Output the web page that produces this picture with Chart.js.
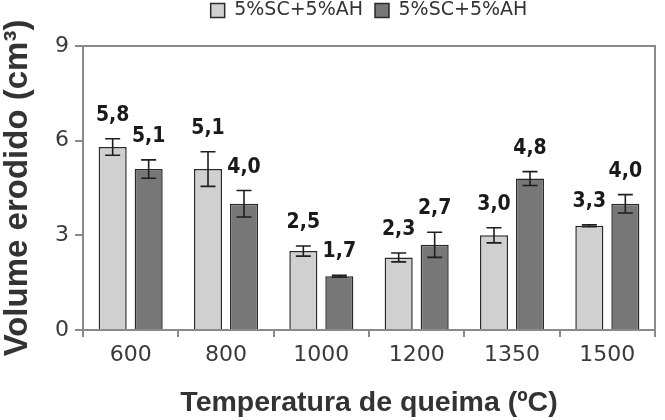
<!DOCTYPE html>
<html>
<head>
<meta charset="utf-8">
<script src="https://cdn.jsdelivr.net/npm/chart.js@4.4.0/dist/chart.umd.min.js"></script>
<style>
html,body{margin:0;padding:0;background:#ffffff;}
#wrap{width:665px;height:420px;position:relative;}
</style>
</head>
<body>
<div id="wrap"><canvas id="c"></canvas></div>
<script>
// ---- data ----
const categories = ['600', '800', '1000', '1200', '1350', '1500'];
const seriesNames = ['5%SC+5%AH', '5%SC+5%AH'];
const lightValues = [5.8, 5.1, 2.5, 2.3, 3.0, 3.3];
const darkValues = [5.1, 4.0, 1.7, 2.7, 4.8, 4.0];
const lightErrors = [0.26, 0.55, 0.16, 0.14, 0.24, 0.03];
const darkErrors = [0.29, 0.42, 0.03, 0.40, 0.22, 0.29];
const yTickValues = [0, 3, 6, 9];
const yTitle = 'Volume erodido (cm³)';
const xTitle = 'Temperatura de queima (ºC)';

// ---- styles ----
const AXIS = '#8a8a8a';
const TEXT = '#3a3a3a';
const errorsByDataset = [lightErrors, darkErrors];

const errorBarPlugin = {
  id: 'errorBars',
  afterDatasetsDraw(chart) {
    const ctx = chart.ctx;
    const yScale = chart.scales.y;
    ctx.save();
    chart.data.datasets.forEach((ds, di) => {
      const meta = chart.getDatasetMeta(di);
      const errs = errorsByDataset[di];
      meta.data.forEach((el, i) => {
        const v = ds.data[i];
        const e = errs[i];
        const x = el.x;
        const yTop = yScale.getPixelForValue(v + e);
        const yBot = yScale.getPixelForValue(v - e);
        const cap = 7.5;
        ctx.strokeStyle = '#1e1e1e';
        ctx.lineWidth = 1.6;
        ctx.beginPath();
        ctx.moveTo(x, yTop); ctx.lineTo(x, yBot);
        ctx.moveTo(x - cap, yTop); ctx.lineTo(x + cap, yTop);
        ctx.moveTo(x - cap, yBot); ctx.lineTo(x + cap, yBot);
        ctx.stroke();
        // value label
        ctx.fillStyle = '#1a1a1a';
        ctx.font = "bold 21px 'DejaVu Sans Condensed', 'Liberation Sans', Arial, sans-serif";
        ctx.textAlign = 'center';
        ctx.textBaseline = 'alphabetic';
        ctx.fillText(v.toFixed(1).replace('.', ','), x, yTop - 18);
      });
    });
    ctx.restore();
  }
};

new Chart(document.getElementById('c'), {
  type: 'bar',
  data: {
    labels: categories,
    datasets: [
      {
        label: seriesNames[0],
        data: lightValues,
        backgroundColor: '#d0d0d0',
        borderColor: '#2a2a2a',
        borderWidth: 1.5,
        categoryPercentage: 0.755,
        barPercentage: 0.78
      },
      {
        label: seriesNames[1],
        data: darkValues,
        backgroundColor: '#777777',
        borderColor: '#2a2a2a',
        borderWidth: 1.5,
        categoryPercentage: 0.755,
        barPercentage: 0.78
      }
    ]
  },
  options: {
    responsive: true,
    maintainAspectRatio: false,
    animation: false,
    devicePixelRatio: 1,
    layout: { padding: { top: -11, left: 0, right: 0, bottom: 0 } },
    plugins: {
      tooltip: { enabled: false },
      legend: {
        display: true,
        position: 'top',
        fullSize: false,
        align: 'center',
        labels: {
          boxWidth: 14,
          boxHeight: 14,
          padding: 12,
          color: '#333333',
          font: { family: "'DejaVu Sans', sans-serif", size: 19 }
        }
      }
    },
    scales: {
      x: {
        type: 'category',
        position: 'bottom',
        offset: true,
        grid: {
          display: true,
          offset: true,
          drawOnChartArea: false,
          drawTicks: true,
          tickLength: 7,
          color: AXIS,
          lineWidth: 2
        },
        border: { display: true, color: AXIS, width: 2 },
        ticks: {
          color: TEXT,
          padding: 5,
          font: { family: "'DejaVu Sans', sans-serif", size: 22 }
        },
        title: {
          display: true,
          text: xTitle,
          color: '#333333',
          padding: { top: 6, bottom: 0 },
          font: { family: "'Liberation Sans', Arial, sans-serif", size: 28.5, weight: 'bold' }
        },
        afterFit(scale) { scale.height = 90; }
      },
      x2: {
        type: 'category',
        position: 'top',
        labels: categories,
        offset: true,
        grid: { display: false },
        ticks: { display: false },
        border: { display: true, color: AXIS, width: 2 },
        afterFit(scale) { scale.height = 16; }
      },
      y: {
        type: 'linear',
        position: 'left',
        min: 0,
        max: 9,
        afterBuildTicks(scale) { scale.ticks = yTickValues.map(v => ({ value: v })); },
        grid: {
          display: true,
          drawOnChartArea: false,
          drawTicks: true,
          tickLength: 8,
          color: AXIS,
          lineWidth: 2
        },
        border: { display: true, color: AXIS, width: 2 },
        ticks: {
          color: TEXT,
          padding: 6,
          font: { family: "'DejaVu Sans', sans-serif", size: 22 }
        },
        title: {
          display: true,
          text: yTitle,
          color: '#333333',
          padding: { top: 0, bottom: 0 },
          font: { family: "'Liberation Sans', Arial, sans-serif", size: 33, weight: 'bold', lineHeight: 1.1 }
        },
        afterFit(scale) { scale.width = 83; }
      },
      y2: {
        type: 'linear',
        position: 'right',
        min: 0,
        max: 9,
        grid: { display: false },
        ticks: { display: false },
        border: { display: true, color: AXIS, width: 2 },
        afterFit(scale) { scale.width = 10; }
      }
    }
  },
  plugins: [errorBarPlugin]
});
</script>
</body>
</html>
